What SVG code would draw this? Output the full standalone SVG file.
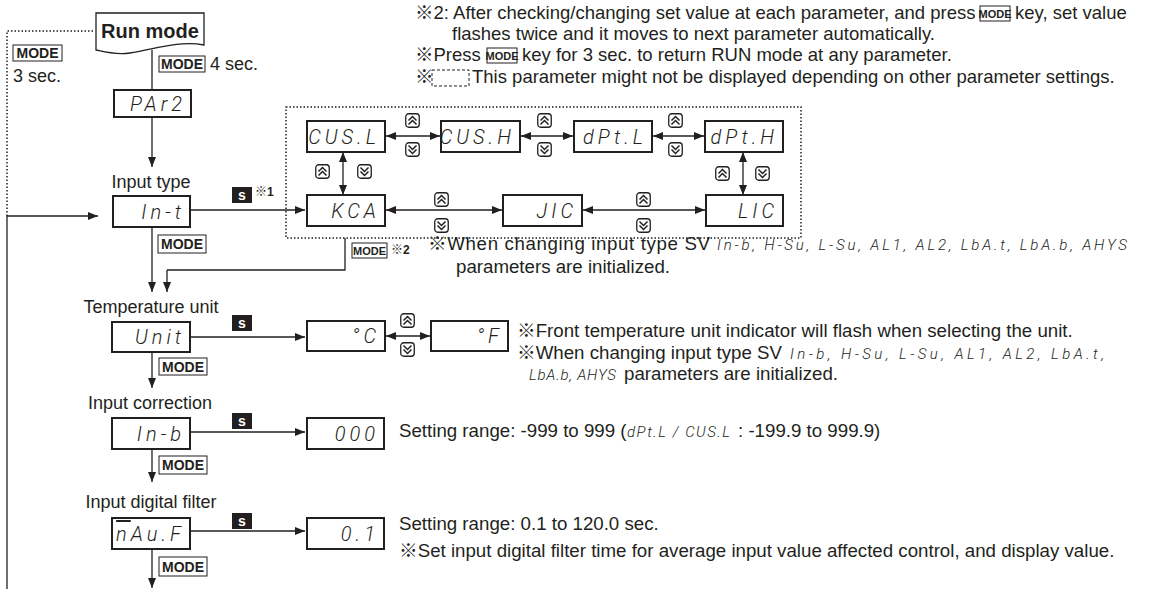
<svg xmlns="http://www.w3.org/2000/svg" xmlns:xlink="http://www.w3.org/1999/xlink" width="1161" height="589" viewBox="0 0 1161 589">
<style>
.t{font-family:"Liberation Sans","Noto Sans CJK JP",sans-serif;font-size:18px;fill:#231f20}
.n{font-family:"Liberation Sans","Noto Sans CJK JP",sans-serif;font-size:18.7px;fill:#231f20}
.nt{font-family:"Liberation Sans","Noto Sans CJK JP",sans-serif;font-size:18.5px;fill:#231f20}
.sm{font-family:"Liberation Sans","Noto Sans CJK JP",sans-serif;font-size:12px;fill:#231f20}
.seg{font-family:Roboto,"DejaVu Sans",sans-serif;font-weight:300;font-style:italic;font-size:20px;fill:#231f20;letter-spacing:4px;text-anchor:end}
.segs{font-family:Roboto,"DejaVu Sans",sans-serif;font-weight:300;font-style:italic;font-size:15px;fill:#231f20;letter-spacing:3px}
.box{fill:#fff;stroke:#231f20;stroke-width:2}
.ln{fill:none;stroke:#231f20;stroke-width:1.3}
.arr{fill:none;stroke:#231f20;stroke-width:1.3;marker-end:url(#ah)}
.darr{fill:none;stroke:#231f20;stroke-width:1.3;marker-end:url(#ah);marker-start:url(#ah)}
.dot{fill:none;stroke:#231f20;stroke-width:1.5;stroke-dasharray:1.5 2}
.key{fill:#fff;stroke:#231f20;stroke-width:1}
.keyt{font-family:"Liberation Sans",sans-serif;font-weight:bold;font-size:14px;fill:#231f20;text-anchor:middle}
.keyts{font-family:"Liberation Sans",sans-serif;font-weight:bold;font-size:11px;fill:#231f20;text-anchor:middle}
.sk{fill:#231f20}
.skt{font-family:"Liberation Sans",sans-serif;font-weight:bold;font-size:14px;fill:#fff;text-anchor:middle}
</style>
<defs>
<marker id="ah" viewBox="0 0 10 8" refX="10" refY="4" markerWidth="10" markerHeight="8" markerUnits="userSpaceOnUse" orient="auto-start-reverse"><path d="M0,0 L10,4 L0,8 Z" fill="#231f20"/></marker>
<symbol id="up" viewBox="0 0 15 15"><rect x="0.75" y="0.75" width="13.5" height="13.5" rx="3" fill="#fff" stroke="#231f20" stroke-width="1.3"/><polyline points="3.5,7.5 7.5,3.5 11.5,7.5" fill="none" stroke="#231f20" stroke-width="1.5"/><polyline points="3.5,11.5 7.5,7.5 11.5,11.5" fill="none" stroke="#231f20" stroke-width="1.5"/></symbol>
<symbol id="dn" viewBox="0 0 15 15"><rect x="0.75" y="0.75" width="13.5" height="13.5" rx="3" fill="#fff" stroke="#231f20" stroke-width="1.3"/><polyline points="3.5,3.5 7.5,7.5 11.5,3.5" fill="none" stroke="#231f20" stroke-width="1.5"/><polyline points="3.5,7.5 7.5,11.5 11.5,7.5" fill="none" stroke="#231f20" stroke-width="1.5"/></symbol>
</defs>

<g id="connectors">
<path class="dot" d="M7,216 V31 H94"/>
<path class="dot" d="M286,107 H801 V238 H286 Z"/>
<path class="ln" d="M7,589 V216"/>
<path class="arr" d="M7,216 H98"/>
<path class="ln" d="M152,50 V90"/>
<path class="arr" d="M152,117 V167"/>
<path class="arr" d="M190,210 H305"/>
<path class="arr" d="M152,227 V292"/>
<path class="ln" d="M345,238 V270 H167"/>
<path class="arr" d="M167,270 V292"/>
<path class="arr" d="M190,337 H305"/>
<path class="arr" d="M152,352 V388"/>
<path class="arr" d="M190,432 H305"/>
<path class="arr" d="M152,449 V482"/>
<path class="arr" d="M190,531 H305"/>
<path class="arr" d="M152,549 V588"/>
<path class="darr" d="M386,136 H440"/>
<path class="darr" d="M521,136 H573"/>
<path class="darr" d="M653,136 H704"/>
<path class="darr" d="M343,152 V195"/>
<path class="darr" d="M743,152 V195"/>
<path class="darr" d="M386,210 H502"/>
<path class="darr" d="M583,210 H705"/>
<path class="darr" d="M386,336 H430"/>
</g>

<g id="run-mode">
<path d="M96,13 H204 V45 C178,40 152,50 130,53 C115,55 105,52 96,50 Z" fill="#fff" stroke="#231f20" stroke-width="1.3"/>
<text x="150" y="38" style="font-family:'Liberation Sans',sans-serif;font-size:20px;font-weight:bold;fill:#231f20;text-anchor:middle">Run mode</text>
</g>
<g id="mode-3sec">
<rect class="key" x="13" y="45" width="49" height="16"/>
<text class="keyt" x="37.5" y="58">MODE</text>
<text class="t" x="13" y="82">3 sec.</text>
</g>
<g id="mode-4sec">
<rect class="key" x="159" y="56" width="46" height="16"/>
<text class="keyt" x="182" y="69">MODE</text>
<text class="t" x="210" y="70">4 sec.</text>
</g>
<g id="par2">
<rect class="box" x="114" y="90" width="77" height="27"/>
<text class="seg" x="186" y="111">PAr2</text>
</g>

<g id="input-type">
<text class="t" x="151" y="188" style="text-anchor:middle">Input type</text>
<rect class="box" x="113" y="196" width="77" height="31"/>
<text class="seg" x="185" y="219">In-t</text>
<rect class="sk" x="232" y="187" width="20" height="16"/>
<text class="skt" x="242" y="200">s</text>
<text class="sm" x="255" y="196">※<tspan style="font-weight:bold">1</tspan></text>
<rect class="key" x="158" y="235" width="48" height="18"/>
<text class="keyt" x="182" y="249">MODE</text>
</g>

<g id="cusl"><rect class="box" x="307" y="121" width="78" height="31"/><text class="seg" x="380" y="144">CUS.L</text></g>
<g id="cush"><rect class="box" x="441" y="121" width="79" height="31"/><text class="seg" x="515" y="144">CUS.H</text></g>
<g id="dptl"><rect class="box" x="574" y="121" width="78" height="31"/><text class="seg" x="647" y="144">dPt.L</text></g>
<g id="dpth"><rect class="box" x="705" y="121" width="78" height="31"/><text class="seg" x="778" y="144">dPt.H</text></g>
<g id="kca"><rect class="box" x="307" y="195" width="78" height="31"/><text class="seg" x="380" y="218">KCA</text></g>
<g id="jic"><rect class="box" x="503" y="195" width="79" height="31"/><text class="seg" x="577" y="218">JIC</text></g>
<g id="lic"><rect class="box" x="706" y="195" width="77" height="31"/><text class="seg" x="778" y="218">LIC</text></g>

<g id="keys">
<use xlink:href="#up" x="405" y="113" width="15" height="15"/><use xlink:href="#dn" x="405" y="142" width="15" height="15"/>
<use xlink:href="#up" x="537" y="113" width="15" height="15"/><use xlink:href="#dn" x="537" y="142" width="15" height="15"/>
<use xlink:href="#up" x="668" y="113" width="15" height="15"/><use xlink:href="#dn" x="668" y="142" width="15" height="15"/>
<use xlink:href="#up" x="315" y="164" width="15" height="15"/><use xlink:href="#dn" x="357" y="164" width="15" height="15"/>
<use xlink:href="#up" x="715" y="166" width="15" height="15"/><use xlink:href="#dn" x="755" y="166" width="15" height="15"/>
<use xlink:href="#up" x="434" y="192" width="15" height="15"/><use xlink:href="#dn" x="434" y="218" width="15" height="15"/>
<use xlink:href="#up" x="636" y="192" width="15" height="15"/><use xlink:href="#dn" x="636" y="218" width="15" height="15"/>
<use xlink:href="#up" x="400" y="313" width="15" height="15"/><use xlink:href="#dn" x="400" y="342" width="15" height="15"/>
</g>

<g id="note-mode2">
<rect class="key" x="352" y="243" width="35" height="15"/>
<text class="keyts" x="369.5" y="254.5">MODE</text>
<text class="sm" x="391" y="254">※<tspan style="font-weight:bold">2</tspan></text>
<text class="n" x="428" y="250" textLength="282">※When changing input type SV</text>
<text class="segs" x="717" y="250" textLength="413">In-b, H-Su, L-Su, AL1, AL2, LbA.t, LbA.b, AHYS</text>
<text class="n" x="456" y="273">parameters are initialized.</text>
</g>

<g id="temp-unit">
<text class="t" x="151" y="313" style="text-anchor:middle">Temperature unit</text>
<rect class="box" x="112" y="322" width="78" height="30"/>
<text class="seg" x="185" y="344">Unit</text>
<rect class="sk" x="232" y="315" width="20" height="16"/>
<text class="skt" x="242" y="328">s</text>
<rect class="key" x="159" y="358" width="48" height="17"/>
<text class="keyt" x="183" y="372">MODE</text>
</g>
<g id="deg-c"><rect class="box" x="307" y="321" width="78" height="30"/><text class="seg" x="380" y="343">°C</text></g>
<g id="deg-f"><rect class="box" x="431" y="321" width="77" height="30"/><text class="seg" x="503" y="343">°F</text></g>
<g id="note-unit">
<text class="n" x="517" y="337">※Front temperature unit indicator will flash when selecting the unit.</text>
<text class="n" x="517" y="359">※When changing input type SV</text>
<text class="segs" x="790" y="359" textLength="317">In-b, H-Su, L-Su, AL1, AL2, LbA.t,</text>
<text class="segs" x="529" y="380" textLength="90">LbA.b, AHYS</text>
<text class="n" x="624" y="380">parameters are initialized.</text>
</g>

<g id="input-correction">
<text class="t" x="150" y="409" style="text-anchor:middle">Input correction</text>
<rect class="box" x="112" y="418" width="78" height="31"/>
<text class="seg" x="185" y="441">In-b</text>
<rect class="sk" x="232" y="413" width="20" height="16"/>
<text class="skt" x="242" y="426">s</text>
<rect class="key" x="159" y="456" width="48" height="18"/>
<text class="keyt" x="183" y="470">MODE</text>
</g>
<g id="v000"><rect class="box" x="307" y="418" width="77" height="31"/><text class="seg" x="379" y="441">000</text></g>
<g id="note-corr">
<text class="n" x="399" y="437">Setting range: -999 to 999 (</text>
<text class="segs" x="627" y="437" textLength="106">dPt.L / CUS.L</text>
<text class="n" x="738" y="437">: -199.9 to 999.9)</text>
</g>

<g id="input-filter">
<text class="t" x="151" y="508" style="text-anchor:middle">Input digital filter</text>
<rect class="box" x="112" y="518" width="78" height="31"/>
<text class="seg" x="185" y="541"><tspan text-decoration="overline">n</tspan>Au.F</text>
<rect class="sk" x="232" y="513" width="20" height="16"/>
<text class="skt" x="242" y="526">s</text>
<rect class="key" x="159" y="557" width="48" height="19"/>
<text class="keyt" x="183" y="572">MODE</text>
</g>
<g id="v01"><rect class="box" x="307" y="518" width="77" height="31"/><text class="seg" x="379" y="541">0.1</text></g>
<g id="note-filter">
<text class="n" x="399" y="530">Setting range: 0.1 to 120.0 sec.</text>
<text class="n" x="399" y="557">※Set input digital filter time for average input value affected control, and display value.</text>
</g>

<g id="notes-top">
<text class="nt" x="415" y="19">※2: After checking/changing set value at each parameter, and press</text>
<rect class="key" x="980" y="6" width="30" height="15"/>
<text class="keyts" x="995" y="17.5">MODE</text>
<text class="nt" x="1015" y="19">key, set value</text>
<text class="nt" x="452" y="40">flashes twice and it moves to next parameter automatically.</text>
<text class="nt" x="415" y="61">※Press</text>
<rect class="key" x="487" y="48" width="30" height="15"/>
<text class="keyts" x="502" y="59.5">MODE</text>
<text class="nt" x="522" y="61">key for 3 sec. to return RUN mode at any parameter.</text>
<text class="nt" x="415" y="83">※</text>
<rect x="432" y="70" width="37" height="16" fill="none" stroke="#231f20" stroke-width="1" stroke-dasharray="3 2"/>
<text class="nt" x="472" y="83">This parameter might not be displayed depending on other parameter settings.</text>
</g>
</svg>
